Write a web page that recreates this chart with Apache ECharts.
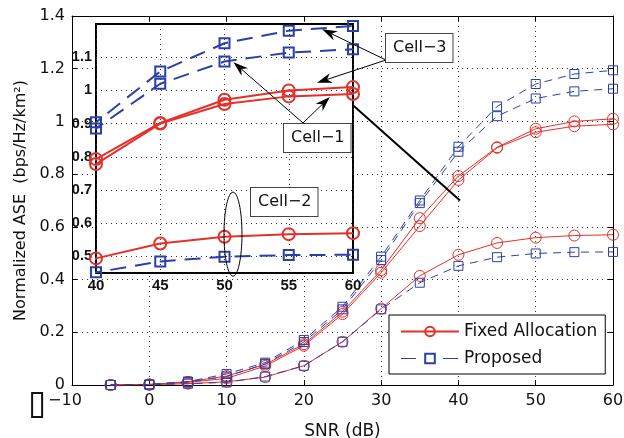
<!DOCTYPE html>
<html>
<head>
<meta charset="utf-8">
<script src="https://cdn.jsdelivr.net/npm/echarts@6/dist/echarts.min.js"></script>
<style>
  html, body { margin: 0; padding: 0; background: #fff; }
  #dv { width: 624px; height: 438px; }
</style>
</head>
<body>
<div id="dv"></div>
<script>
// SNR (dB) sample points
const snr = [-5, 0, 5, 10, 15, 20, 25, 30, 35, 40, 45, 50, 55, 60]
// Fixed allocation, per cell
const fixedCell1 = [0, 0.002, 0.010, 0.025, 0.072, 0.149, 0.269, 0.426, 0.603, 0.778, 0.900, 0.959, 0.982, 0.989]
const fixedCell2 = [0, 0.001, 0.005, 0.012, 0.030, 0.073, 0.164, 0.290, 0.414, 0.494, 0.539, 0.559, 0.567, 0.570]
const fixedCell3 = [0, 0.002, 0.012, 0.034, 0.078, 0.155, 0.278, 0.436, 0.633, 0.793, 0.902, 0.972, 1.000, 1.010]
// Proposed, per cell
const propCell1 = [0, 0.002, 0.012, 0.032, 0.080, 0.163, 0.287, 0.474, 0.690, 0.885, 1.020, 1.087, 1.114, 1.124]
const propCell2 = [0, 0.001, 0.005, 0.010, 0.032, 0.073, 0.164, 0.287, 0.388, 0.452, 0.485, 0.499, 0.504, 0.505]
const propCell3 = [0, 0.002, 0.013, 0.042, 0.085, 0.171, 0.297, 0.487, 0.700, 0.904, 1.057, 1.142, 1.180, 1.194]
// inset tick labels
const insetYTicks = [0.5, 0.6, 0.7, 0.8, 0.9, 1.0, 1.1]

const RED = '#e5302a'
const BLUE = '#2b3fa8'
const FONT = '"DejaVu Sans", sans-serif'
const BOLD = '"Liberation Sans", Arial, sans-serif'
const INSET = { left: 96, top: 24, width: 257, height: 249 }

const chart = echarts.init(document.getElementById('dv'))

const pairs = arr => snr.map((x, i) => [x, arr[i]])

function makeSeries (name, arr, inset, fixed) {
  const color = fixed ? RED : BLUE
  return {
    type: 'line',
    name: name,
    data: pairs(arr),
    xAxisIndex: inset ? 2 : 0,
    yAxisIndex: inset ? 2 : 0,
    z: inset ? 12 : 2,
    symbol: fixed ? 'circle' : 'rect',
    symbolSize: inset ? (fixed ? 12 : 10) : (fixed ? 11 : 9),
    showSymbol: true,
    animation: false,
    clip: true,
    lineStyle: {
      color: color,
      width: inset ? 2 : 1,
      type: fixed ? 'solid' : (inset ? [16, 9] : [8, 6])
    },
    itemStyle: {
      color: 'rgba(255,255,255,0)',
      borderColor: color,
      borderWidth: inset ? 2 : 1
    },
    emphasis: { disabled: true }
  }
}

const series = [
  makeSeries('Fixed Allocation', fixedCell1, false, true),
  makeSeries('Fixed Allocation', fixedCell2, false, true),
  makeSeries('Fixed Allocation', fixedCell3, false, true),
  makeSeries('Proposed', propCell1, false, false),
  makeSeries('Proposed', propCell2, false, false),
  makeSeries('Proposed', propCell3, false, false),
  makeSeries('Fixed Allocation', fixedCell1, true, true),
  makeSeries('Fixed Allocation', fixedCell2, true, true),
  makeSeries('Fixed Allocation', fixedCell3, true, true),
  makeSeries('Proposed', propCell1, true, false),
  makeSeries('Proposed', propCell2, true, false),
  makeSeries('Proposed', propCell3, true, false)
]

const dotted = { show: true, lineStyle: { color: '#333', width: 1, type: [1, 4] } }
const axisLine = { show: true, onZero: false, lineStyle: { color: '#000', width: 1 } }
const tickIn = { show: true, inside: true, length: 5, lineStyle: { color: '#000' } }

const option = {
  backgroundColor: '#fff',
  animation: false,
  grid: [
    { left: 72, right: 11, top: 16, bottom: 53, outerBoundsMode: 'none' },
    { left: INSET.left, top: INSET.top, width: INSET.width, height: INSET.height, outerBoundsMode: 'none' }
  ],
  legend: {
    data: [
      { name: 'Fixed Allocation' },
      { name: 'Proposed', lineStyle: { type: [15, 27], width: 1 } }
    ],
    orient: 'vertical',
    left: 389,
    top: 315,
    padding: [8, 8, 7, 11],
    itemGap: 10,
    itemWidth: 58,
    itemHeight: 12,
    backgroundColor: '#fff',
    borderColor: '#000',
    borderWidth: 1,
    borderRadius: 0,
    selectedMode: false,
    z: 20,
    textStyle: { fontFamily: FONT, fontSize: 17, color: '#111' }
  },
  xAxis: [
    {
      type: 'value', gridIndex: 0, min: -10, max: 60, interval: 10,
      name: 'SNR (dB)', nameLocation: 'middle', nameGap: 31,
      nameTextStyle: { fontFamily: FONT, fontSize: 17, color: '#111' },
      axisLine: axisLine, axisTick: tickIn, splitLine: dotted,
      axisLabel: {
        fontFamily: FONT, fontSize: 16, color: '#111', margin: 8,
        formatter: v => v < 0 ? '{box|}{t|\u2212' + Math.abs(v) + '}' : String(v),
        rich: {
          box: { width: 10, height: 24, borderColor: '#111', borderWidth: 2, verticalAlign: 'top' },
          t: { fontFamily: FONT, fontSize: 16, color: '#111', padding: [0, 30, 8, 6] }
        }
      }
    },
    {
      type: 'value', gridIndex: 0, min: -10, max: 60, interval: 10, position: 'top',
      axisLine: axisLine, axisTick: tickIn, axisLabel: { show: false }, splitLine: { show: false }
    },
    {
      type: 'value', gridIndex: 1, min: 40, max: 60, interval: 5, z: 10,
      axisLine: { show: false }, axisTick: { show: false }, splitLine: dotted,
      axisLabel: { fontFamily: BOLD, fontSize: 15, fontWeight: 'bold', color: '#111', margin: 5 }
    }
  ],
  yAxis: [
    {
      type: 'value', gridIndex: 0, min: 0, max: 1.4, interval: 0.2,
      name: 'Normalized ASE  (bps/Hz/km\u00b2)', nameLocation: 'middle', nameGap: 42,
      nameTextStyle: { fontFamily: FONT, fontSize: 16, color: '#111' },
      axisLine: axisLine, axisTick: tickIn, splitLine: dotted,
      axisLabel: { fontFamily: FONT, fontSize: 16, color: '#111', margin: 7 }
    },
    {
      type: 'value', gridIndex: 0, min: 0, max: 1.4, interval: 0.2, position: 'right',
      axisLine: axisLine, axisTick: tickIn, axisLabel: { show: false }, splitLine: { show: false }
    },
    {
      type: 'value', gridIndex: 1, min: 0.45, max: 1.2, z: 10,
      axisLine: { show: false },
      axisTick: { show: false, customValues: insetYTicks },
      splitLine: Object.assign({ customValues: insetYTicks }, dotted),
      axisLabel: {
        customValues: insetYTicks,
        fontFamily: BOLD, fontSize: 14.5, fontWeight: 'bold', color: '#111', margin: 4
      }
    }
  ],
  series: series
}
chart.setOption(option)

// annotations: built after layout so arrow tips sit on the inset's data scale
const ip = (x, y) => chart.convertToPixel({ gridIndex: 1 }, [x, y])
const mp = (x, y) => chart.convertToPixel({ gridIndex: 0 }, [x, y])

function arrow (p0, p1) {
  const dx = p1[0] - p0[0]
  const dy = p1[1] - p0[1]
  const L = Math.hypot(dx, dy)
  const ux = dx / L
  const uy = dy / L
  const hl = 15
  const hw = 5
  const bx = p1[0] - ux * hl
  const by = p1[1] - uy * hl
  const nx = p1[0] - ux * hl * 0.7
  const ny = p1[1] - uy * hl * 0.7
  return [
    { type: 'line', z: 30, shape: { x1: p0[0], y1: p0[1], x2: nx, y2: ny }, style: { stroke: '#000', lineWidth: 1 } },
    {
      type: 'polygon', z: 30,
      shape: { points: [p1, [bx - uy * hw, by + ux * hw], [nx, ny], [bx + uy * hw, by - ux * hw]] },
      style: { fill: '#000' }
    }
  ]
}

function label (text, x, y) {
  return {
    type: 'text', z: 31, x: x, y: y,
    style: {
      text: text, font: '16px ' + FONT, fill: '#111',
      backgroundColor: '#fff', borderColor: '#444', borderWidth: 1,
      padding: [6, 6, 6, 7], verticalAlign: 'top', align: 'left'
    }
  }
}

const r0 = ip(40, 1.2)
const r1 = ip(60, 0.45)
const ell = ip(50.66, 0.567)
const zoomFrom = ip(60, 0.955)
const zoomTo = mp(40.2, 0.70)

const graphics = [
  {
    type: 'rect', z: 5,
    shape: { x: r0[0], y: r0[1], width: r1[0] - r0[0], height: r1[1] - r0[1] },
    style: { fill: '#fff', stroke: '#000', lineWidth: 2 }
  },
  {
    type: 'line', z: 30,
    shape: { x1: zoomFrom[0], y1: zoomFrom[1], x2: zoomTo[0], y2: zoomTo[1] },
    style: { stroke: '#000', lineWidth: 2 }
  },
  {
    type: 'ellipse', z: 30,
    shape: { cx: ell[0], cy: ell[1], rx: 9, ry: 42 },
    style: { fill: 'none', stroke: '#000', lineWidth: 1 }
  },
  ...arrow([386, 60], ip(57.6, 1.184)),
  ...arrow([386, 60], ip(57.2, 1.023)),
  ...arrow([303, 123], ip(50.7, 1.085)),
  ...arrow([303, 123], ip(58.2, 0.98)),
  label('Cell\u22123', 386, 34),
  label('Cell\u22121', 284, 124),
  label('Cell\u22122', 251, 188)
]
chart.setOption({ graphic: { elements: graphics } })
</script>
</body>
</html>
